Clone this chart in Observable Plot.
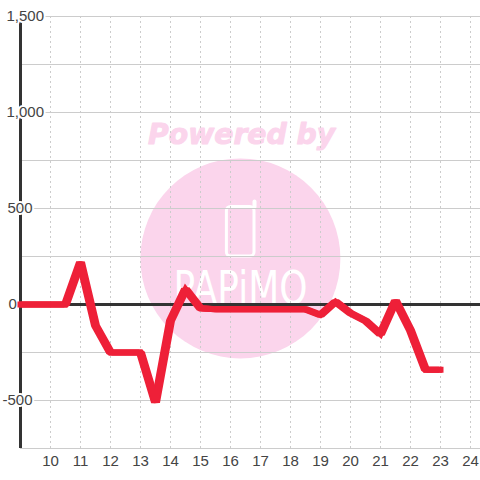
<!DOCTYPE html>
<html>
<head>
<meta charset="utf-8">
<style>html,body{margin:0;padding:0;background:#fff}svg{display:block}</style>
<script src="https://cdn.jsdelivr.net/npm/d3@7"></script>
<script src="https://cdn.jsdelivr.net/npm/@observablehq/plot@0.6"></script>
</head>
<body>
<script>
const hours = [9,9.5,10,10.5,11,11.5,12,12.5,13,13.5,14,14.5,15,15.5,16,16.5,17,17.5,18,18.5,19,19.5,20,20.5,21,21.5,22,22.5,23];
const values = [0,0,0,0,220,-110,-250,-250,-250,-510,-85,80,-20,-25,-25,-25,-25,-25,-25,-25,-55,15,-45,-85,-155,20,-135,-340,-340];
const xTicks = [10,11,12,13,14,15,16,17,18,19,20,21,22,23,24];
const yGrid = [-750,-500,-250,250,500,750,1000,1250,1500];
const yValues = [1500,1000,500,0,-500];
const yLabels = ["1,500","1,000","500","0","-500"];
const labelShift = [-14,-14,-13,-12,-18];
const circleCenter = [{x:16.33,y:240}];
const phoneBody = [{x1:15.88,x2:16.8,y1:250,y2:508}];
const phoneAerial = [{x:16.8,y:508},{x:16.8,y:536}];
const poweredAt = [{x:16.37,y:885,t:"Powered by"}];
const logoAt = [{x:16.33,y:78,t:"PAPiMO"}];
const lineOffsets = [-1.5,1.5];

const FONT = "Liberation Sans, Arial, sans-serif";
const ink = "#444", grid = "#ccc", pink = "#fbd5ec", red = "#ee2038", dark = "#333";
const table = hours.map((h,i)=>({h,v:values[i]}));
const fit = (w)=>function(i,s,v,d,c,next){const g=next(i,s,v,d,c);d3.select(g).selectAll("text").attr("textLength",w).attr("lengthAdjust","spacingAndGlyphs");return g;};

const chart = Plot.plot({
  width:480,height:480,
  marginLeft:20,marginRight:0,marginTop:16,marginBottom:32,
  style:{background:"#fff",fontFamily:FONT,overflow:"visible"},
  x:{domain:[9,9+460/30],range:[20,480],axis:null},
  y:{domain:[-750,1500],range:[448,16],axis:null},
  marks:[
    Plot.dot(circleCenter,{x:"x",y:"y",r:100,fill:pink,stroke:"none"}),
    Plot.text(poweredAt,{x:"x",y:"y",text:"t",fill:pink,stroke:pink,strokeWidth:1,fontSize:28,fontWeight:"bold",fontStyle:"italic",fontFamily:"DejaVu Sans",render:fit(187)}),
    Plot.rect(phoneBody,{x1:"x1",x2:"x2",y1:"y1",y2:"y2",fill:"none",stroke:"#fff",strokeWidth:3,rx:4}),
    Plot.line(phoneAerial,{x:"x",y:"y",stroke:"#fff",strokeWidth:4,strokeLinecap:"round"}),
    Plot.text(logoAt,{x:"x",y:"y",text:"t",fill:"#fff",fontSize:46,fontFamily:"Liberation Sans Narrow, DejaVu Sans",render:fit(134)}),
    Plot.ruleY(yGrid,{y:d=>d,stroke:grid,strokeWidth:1}),
    Plot.ruleX(xTicks,{x:d=>d,stroke:grid,strokeWidth:1,strokeDasharray:"2,3"}),
    Plot.ruleY([0],{stroke:dark,strokeWidth:3}),
    Plot.ruleX([9],{stroke:dark,strokeWidth:3}),
    Plot.axisX({ticks:xTicks,tickSize:0,tickPadding:7,tickFormat:d=>String(d),fontSize:15,fontFamily:FONT,fill:ink,label:null,anchor:"bottom"}),
    ...yValues.map((v,k)=>Plot.text([v],{x:()=>9,y:d=>d,text:()=>yLabels[k],dx:labelShift[k],textAnchor:"start",fill:ink,stroke:"#fff",strokeWidth:4,fontSize:15,fontFamily:FONT})),
    ...lineOffsets.map(o=>Plot.line(table,{x:"h",y:"v",dx:o,stroke:red,strokeWidth:6,strokeLinecap:"butt",strokeLinejoin:"miter",curve:"linear"})),
    Plot.line(table,{x:"h",y:"v",stroke:red,strokeWidth:6,strokeLinecap:"square",strokeLinejoin:"miter",strokeMiterlimit:2,curve:"linear"})
  ]
});
document.body.appendChild(chart);
</script>
</body>
</html>
